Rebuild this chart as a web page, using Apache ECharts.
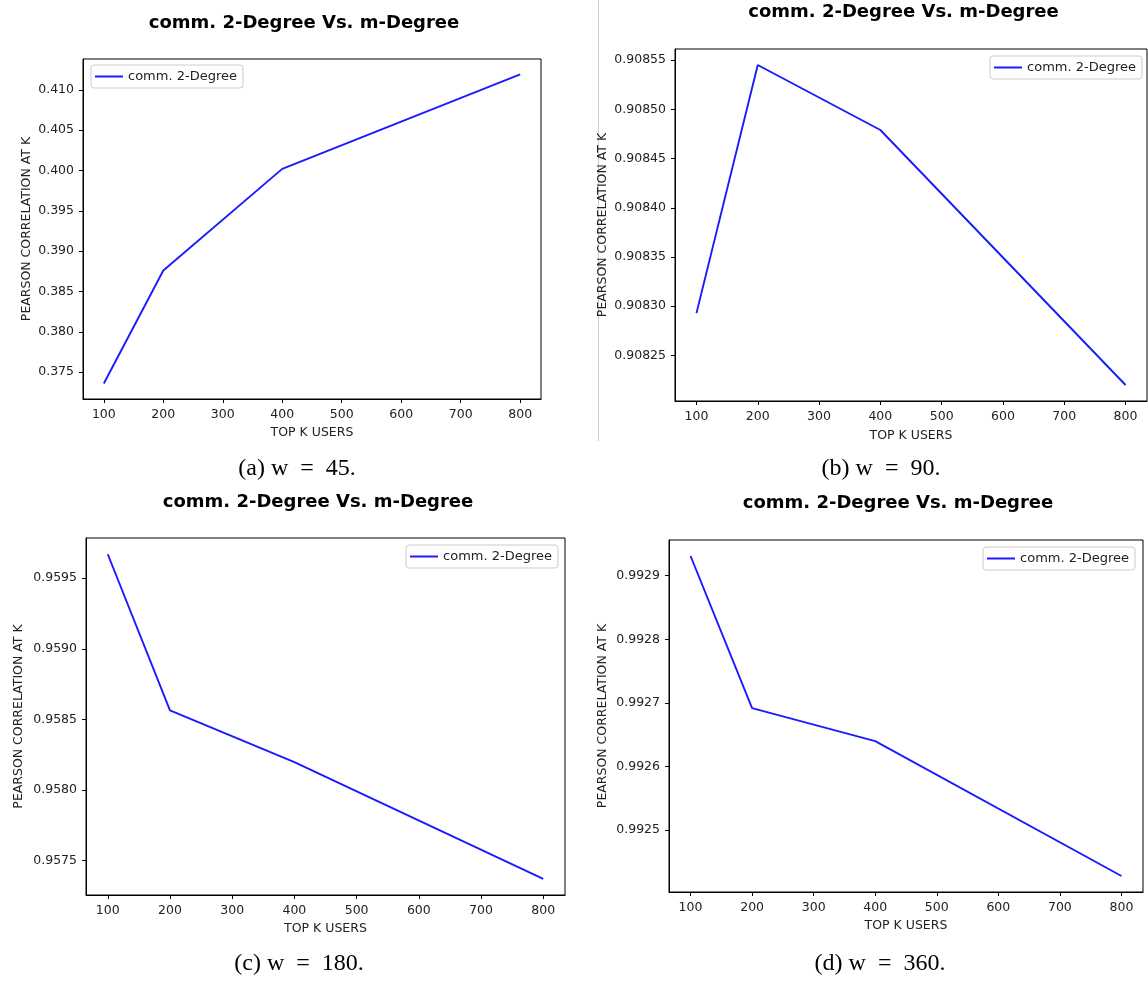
<!DOCTYPE html>
<html>
<head>
<meta charset="utf-8">
<title>comm. 2-Degree Vs. m-Degree</title>
<script src="https://cdn.jsdelivr.net/npm/echarts@6.0.0/dist/echarts.min.js"></script>
<style>
  html, body { margin: 0; padding: 0; background: #fff; }
  #main { width: 1148px; height: 982px; }
</style>
</head>
<body>
<div id="main"></div>
<script>
// x values (top K users) shared by all four panels
const topK = [100, 200, 400, 800];
const xTicks = [100, 200, 300, 400, 500, 600, 700, 800];

// pearson correlation at K, one array per window size
const corrW45 = [0.3736, 0.3876, 0.4002, 0.4119];
const corrW90 = [0.908293, 0.908545, 0.908479, 0.908220];
const corrW180 = [0.95967, 0.958564, 0.958197, 0.95737];
const corrW360 = [0.992931, 0.992692, 0.992640, 0.992428];

// y tick labels of each panel
const yTicksW45 = [0.375, 0.380, 0.385, 0.390, 0.395, 0.400, 0.405, 0.410];
const yTicksW90 = [0.90825, 0.90830, 0.90835, 0.90840, 0.90845, 0.90850, 0.90855];
const yTicksW180 = [0.9575, 0.9580, 0.9585, 0.9590, 0.9595];
const yTicksW360 = [0.9925, 0.9926, 0.9927, 0.9928, 0.9929];

const titleText = 'comm. 2-Degree Vs. m-Degree';
const seriesName = 'comm. 2-Degree';
const captions = ['(a) w  =  45.', '(b) w  =  90.', '(c) w  =  180.', '(d) w  =  360.'];

const panels = [
  { data: corrW45, ticks: yTicksW45, digits: 3 },
  { data: corrW90, ticks: yTicksW90, digits: 5 },
  { data: corrW180, ticks: yTicksW180, digits: 4 },
  { data: corrW360, ticks: yTicksW360, digits: 4 }
];

// layout, in page pixels
const grids = [
  { left: 83, top: 59, width: 458, height: 340 },
  { left: 675, top: 49, width: 472, height: 352 },
  { left: 86, top: 538, width: 479, height: 357 },
  { left: 669, top: 540, width: 474, height: 352 }
];
const yNameGaps = [50, 66, 61, 60];
const xNameGaps = [27, 28, 27, 27];
const legendPos = [
  { left: 91, top: 65 },
  { right: 6, top: 56 },
  { right: 590, top: 545 },
  { right: 13, top: 547 }
];
const titlePos = [[304, 23.5], [903.5, 12], [318, 502], [898, 503.5]];
const captionPos = [[297, 469], [881, 469], [299, 964], [880, 964]];

const sans = 'DejaVu Sans';
const ink = '#222';

let myChart = echarts.init(document.getElementById('main'));

const option = {
  animation: false,
  grid: [],
  xAxis: [],
  yAxis: [],
  legend: [],
  series: [],
  graphic: []
};

panels.forEach((p, i) => {
  // matplotlib-like 5% margins around the data
  const lo = Math.min(...p.data), hi = Math.max(...p.data);
  const pad = (hi - lo) * 0.05;

  option.grid.push(Object.assign({
    show: true, borderColor: '#000', borderWidth: 1, containLabel: false
  }, grids[i]));

  option.xAxis.push({
    type: 'value',
    gridIndex: i,
    min: 65,
    max: 835,
    name: 'TOP K USERS',
    nameLocation: 'middle',
    nameGap: xNameGaps[i],
    nameTextStyle: { fontFamily: sans, fontSize: 12.5, color: ink },
    axisLine: { show: true, lineStyle: { color: '#000', width: 1 } },
    axisTick: { show: true, length: 4, lineStyle: { color: '#000' }, customValues: xTicks },
    axisLabel: { fontFamily: sans, fontSize: 12.5, color: ink, margin: 9, customValues: xTicks },
    splitLine: { show: false }
  });

  option.yAxis.push({
    type: 'value',
    gridIndex: i,
    min: lo - pad,
    max: hi + pad,
    name: 'PEARSON CORRELATION AT K',
    nameLocation: 'middle',
    nameGap: yNameGaps[i],
    nameTextStyle: { fontFamily: sans, fontSize: 12.5, color: ink },
    axisLine: { show: true, lineStyle: { color: '#000', width: 1 } },
    axisTick: { show: true, length: 4, lineStyle: { color: '#000' }, customValues: p.ticks },
    axisLabel: {
      fontFamily: sans, fontSize: 12.5, color: ink, margin: 9,
      customValues: p.ticks,
      formatter: (v) => v.toFixed(p.digits)
    },
    splitLine: { show: false }
  });

  option.legend.push(Object.assign({
    data: [seriesName],
    orient: 'vertical',
    icon: 'rect',
    itemWidth: 28,
    itemHeight: 2,
    padding: [5, 6, 5, 4],
    borderColor: '#ccc',
    borderWidth: 1,
    borderRadius: 3,
    backgroundColor: 'rgba(255,255,255,0.8)',
    selectedMode: false,
    textStyle: { fontFamily: sans, fontSize: 13, color: ink }
  }, legendPos[i]));

  option.series.push({
    name: seriesName,
    type: 'line',
    xAxisIndex: i,
    yAxisIndex: i,
    data: topK.map((k, j) => [k, p.data[j]]),
    showSymbol: false,
    symbol: 'none',
    lineStyle: { color: '#1a1aff', width: 1.9 },
    itemStyle: { color: '#1a1aff' }
  });

  option.graphic.push({
    type: 'text',
    x: titlePos[i][0],
    y: titlePos[i][1],
    style: {
      text: titleText,
      fill: '#000',
      font: 'bold 18px "DejaVu Sans"',
      textAlign: 'center',
      textVerticalAlign: 'middle'
    }
  });
  option.graphic.push({
    type: 'text',
    x: captionPos[i][0],
    y: captionPos[i][1],
    style: {
      text: captions[i],
      fill: '#000',
      font: '24px "Liberation Serif"',
      textAlign: 'center',
      textVerticalAlign: 'middle'
    }
  });
});

// thin separator between the two upper panels
option.graphic.push({
  type: 'line',
  shape: { x1: 598.5, y1: 0, x2: 598.5, y2: 441 },
  style: { stroke: '#ccc', lineWidth: 1 }
});

myChart.setOption(option);
</script>
</body>
</html>
